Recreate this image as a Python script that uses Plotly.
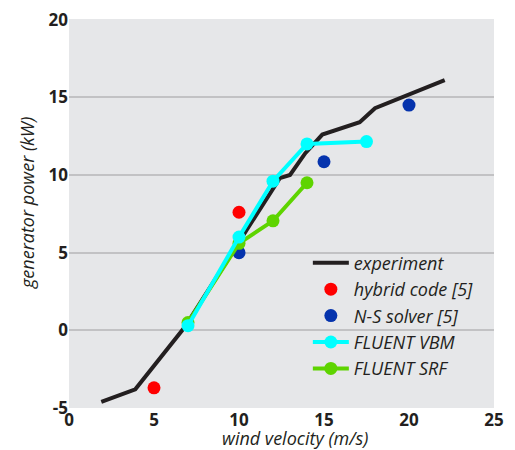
import plotly.graph_objects as go

exp_x = [1.9, 3.9, 6.8, 12.4, 13.0, 13.9, 14.9, 17.1, 18.0, 22.1]
exp_y = [-4.6, -3.8, 0.2, 9.8, 10.0, 11.4, 12.6, 13.4, 14.3, 16.1]
hyb_x = [5, 10]
hyb_y = [-3.7, 7.6]
ns_x = [10, 15, 20]
ns_y = [5.0, 10.85, 14.5]
vbm_x = [7, 10, 12, 14, 17.5]
vbm_y = [0.3, 6.0, 9.6, 12.0, 12.15]
srf_x = [7, 10, 12, 14]
srf_y = [0.5, 5.6, 7.05, 9.5]
x_ticks = [0, 5, 10, 15, 20, 25]
y_ticks = [-5, 0, 5, 10, 15, 20]
y_tick_labels = ["-5", "0", "5", "10", "15", "20"]

FONT = "Open Sans"
TXT = "#231f20"
fig = go.Figure()
fig.add_trace(go.Scatter(x=exp_x, y=exp_y, mode="lines", name="experiment",
                         line=dict(color=TXT, width=4), legendrank=1))
fig.add_trace(go.Scatter(x=hyb_x, y=hyb_y, mode="markers", name="hybrid code [5]",
                         marker=dict(color="#ff0000", size=13), legendrank=2))
fig.add_trace(go.Scatter(x=ns_x, y=ns_y, mode="markers", name="N-S solver [5]",
                         marker=dict(color="#0533ad", size=13), legendrank=3))
fig.add_trace(go.Scatter(x=srf_x, y=srf_y, mode="lines+markers", name="FLUENT SRF",
                         line=dict(color="#5ed400", width=4),
                         marker=dict(color="#5ed400", size=13), legendrank=5))
fig.add_trace(go.Scatter(x=vbm_x, y=vbm_y, mode="lines+markers", name="FLUENT VBM",
                         line=dict(color="#00ffff", width=4),
                         marker=dict(color="#00ffff", size=13), legendrank=4))

title_font = dict(family=FONT, size=18, style="italic", weight=500, color=TXT)
fig.update_layout(
    width=507, height=442,
    margin=dict(l=61, r=21, t=11, b=42, autoexpand=False),
    paper_bgcolor="white",
    plot_bgcolor="#e6e7e9",
    font=dict(family=FONT, color=TXT),
    showlegend=True,
    legend=dict(x=0.562, y=0.42, xanchor="left", yanchor="top",
                bgcolor="rgba(0,0,0,0)",
                font=dict(family=FONT, size=18, style="italic", weight=500, color=TXT),
                itemwidth=36),
    xaxis=dict(range=[0, 25], tickvals=x_ticks, showgrid=False,
               zeroline=False, showline=False, ticks="", automargin=False,
               tickfont=dict(family=FONT, size=17, weight="bold", color=TXT)),
    yaxis=dict(range=[-5, 20.04], tickvals=y_ticks, ticktext=y_tick_labels, showgrid=True,
               gridcolor="#c2c2c4", gridwidth=2, zeroline=False, showline=False, ticks="",
               automargin=False, ticklabeloverflow="allow",
               tickfont=dict(family=FONT, size=17, weight="bold", color=TXT)),
    annotations=[
        dict(text="wind velocity (m/s)", xref="paper", yref="paper", x=0.532, y=0,
             xanchor="center", yanchor="middle", yshift=-30, showarrow=False, font=title_font),
        dict(text="generator power (kW)", xref="paper", yref="paper", x=0, y=0.527,
             xanchor="center", yanchor="middle", xshift=-42, textangle=-90,
             showarrow=False, font=title_font),
    ],
)
fig.write_html("out.html")
